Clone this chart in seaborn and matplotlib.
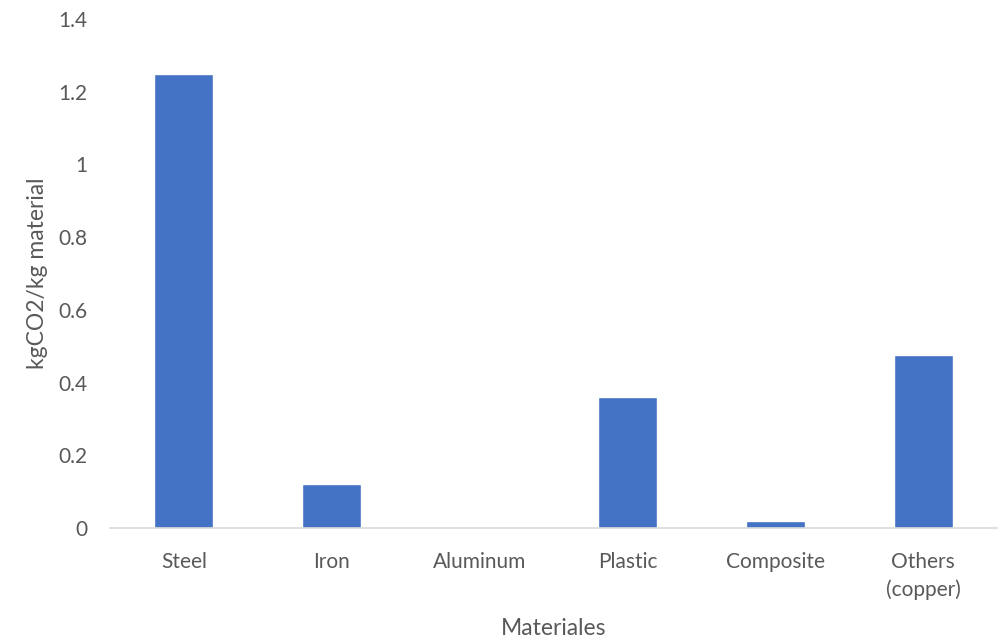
import matplotlib
matplotlib.use("Agg")
import matplotlib.pyplot as plt
import seaborn as sns
import pandas as pd
import numpy as np

categories = ["Steel", "Iron", "Aluminum", "Plastic", "Composite", "Others\n(copper)"]
values = [1.25, 0.12, 0.0, 0.36, 0.02, 0.475]
y_ticks = [0, 0.2, 0.4, 0.6, 0.8, 1, 1.2, 1.4]
y_tick_labels = ["0", "0.2", "0.4", "0.6", "0.8", "1", "1.2", "1.4"]

df = pd.DataFrame({"Materiales": categories, "value": values})

sns.set_theme(style="white")
plt.rcParams["font.family"] = ["Lato", "DejaVu Sans"]

text_color = "#595959"
axis_color = "#D9D9D9"
bar_color = "#4472C4"

fig = plt.figure(figsize=(10.05, 6.41), dpi=100)
ax = fig.add_axes([110 / 1005, 1 - 528 / 641, (997 - 110) / 1005, (528 - 19) / 641])

sns.barplot(data=df, x="Materiales", y="value", color=bar_color, width=0.4,
            saturation=1, ax=ax)

ax.set_xlim(-0.5, len(categories) - 0.5)
ax.set_ylim(0, 1.4)
ax.set_yticks(y_ticks)
ax.set_yticklabels(y_tick_labels)

# category labels at centers, tick marks at category boundaries
ax.set_xticks(np.arange(len(categories)))
ax.set_xticklabels(categories, linespacing=1.45)
ax.set_xticks(np.arange(len(categories) + 1) - 0.5, minor=True)
ax.tick_params(axis="x", which="major", length=0, pad=17, labelsize=15, labelcolor=text_color)
ax.tick_params(axis="x", which="minor", length=5, width=1.2, color=axis_color, direction="out")
ax.tick_params(axis="y", length=0, pad=16, labelsize=15, labelcolor=text_color)

for side in ["top", "right", "left"]:
    ax.spines[side].set_visible(False)
ax.spines["bottom"].set_color(axis_color)
ax.spines["bottom"].set_linewidth(1.2)
ax.grid(False)

ax.set_xlabel("Materiales", fontsize=16.5, color=text_color, labelpad=13)
ax.set_ylabel("kgCO2/kg material", fontsize=16.5, color=text_color, labelpad=8)

fig.savefig("out.png", dpi=100, facecolor="white")
